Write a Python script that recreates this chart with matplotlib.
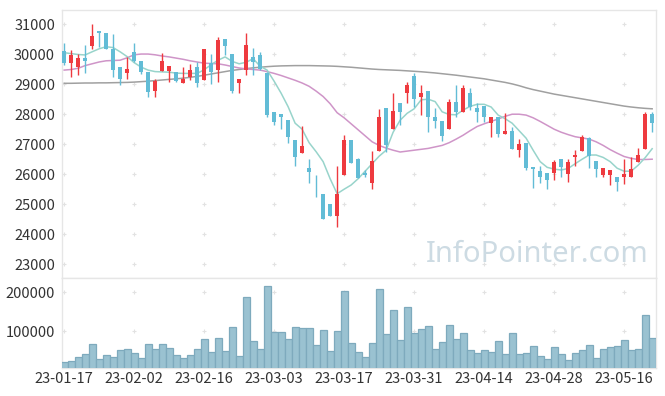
import matplotlib
matplotlib.use("Agg")
import matplotlib.pyplot as plt
import numpy as np
import pandas as pd

# ---------------- data ----------------
holidays = ["2023-01-23", "2023-01-24", "2023-03-01", "2023-05-01", "2023-05-05"]
dates = [d for d in pd.bdate_range("2023-01-17", "2023-05-22") if d.strftime("%Y-%m-%d") not in holidays]

opens = [30107, 29697, 29583, 29883, 30283, 30773, 30697, 30173, 29583, 29383,
         30073, 29773, 29407, 28773, 29440, 29440, 29417, 29050, 29250, 29563,
         29150, 29717, 29473, 30507, 29997, 29050, 29473, 29897, 29973, 29383,
         28083, 28007, 27800, 27140, 26717, 26217, 25720, 25330, 25007, 24617,
         25973, 27140, 26507, 26030, 25717, 26783, 28197, 27497, 28383, 28697,
         29273, 28583, 28773, 27897, 27773, 27497, 28397, 28083, 28697, 28197,
         28273, 27697, 27897, 27330, 27440, 26807, 27030, 26230, 26107, 26030,
         26030, 26507, 25997, 26583, 26783, 27197, 26440, 25973, 25973, 25917,
         25917, 25917, 26397, 26830, 28007]
highs = [30380, 30140, 29997, 30307, 31007, 30773, 30697, 30663, 29583, 29917,
         30363, 29773, 29407, 29163, 30030, 29607, 29417, 29563, 29663, 29750,
         30163, 30000, 30563, 30507, 29997, 29173, 30697, 30197, 30063, 29417,
         28083, 28007, 27800, 27140, 27607, 26497, 25973, 25330, 25007, 26283,
         27307, 27140, 26550, 26150, 26773, 28163, 28197, 28697, 28383, 29083,
         29383, 28973, 28773, 28197, 27773, 28497, 28973, 28973, 28883, 28363,
         28273, 27897, 27897, 28050, 27583, 27173, 27030, 26230, 26273, 26030,
         26473, 26507, 26497, 26807, 27307, 27230, 26440, 26217, 26140, 25917,
         26507, 26583, 26883, 28083, 28083]
lows = [29640, 29250, 29307, 29363, 30163, 30250, 30173, 29250, 28973, 29173,
        29730, 29350, 28563, 28583, 29440, 29083, 29080, 29050, 29140, 28917,
        29150, 29010, 29083, 29973, 28697, 28697, 29307, 29307, 29473, 27917,
        27640, 27500, 27050, 26273, 26717, 25697, 25250, 24507, 24617, 24250,
        25973, 26383, 25863, 25900, 25497, 26783, 26750, 27497, 27640, 28363,
        28250, 27973, 27417, 27530, 27107, 27497, 27897, 28083, 28140, 27750,
        27750, 27230, 27230, 27330, 26830, 26583, 26140, 25530, 25697, 25497,
        25807, 25917, 25743, 26273, 26783, 26197, 25917, 25917, 25640, 25440,
        25673, 25917, 26397, 26830, 27417]
closes = [29697, 29973, 29863, 29783, 30607, 30697, 30173, 29473, 29173, 29497,
          29783, 29397, 28750, 29117, 29773, 29607, 29117, 29173, 29473, 29050,
          30163, 29420, 30473, 30283, 28783, 29173, 30307, 29750, 29497, 27973,
          27750, 27897, 27230, 26583, 26940, 26083, 25697, 24507, 24617, 25330,
          27140, 26383, 25863, 25980, 26440, 27897, 26973, 28107, 28083, 28973,
          28497, 28717, 27897, 27783, 27283, 28397, 28083, 28863, 28250, 28063,
          27897, 27897, 27340, 27440, 26830, 26997, 26197, 26173, 25917, 25807,
          26397, 26230, 26397, 26640, 27230, 26617, 26173, 26217, 26140, 25730,
          26007, 26163, 26640, 28007, 27697]
volumes = [20500, 23000, 33300, 41000, 66700, 28200, 38500, 33300, 51300, 53800,
           43600, 30800, 66700, 53800, 66700, 56400, 38500, 30800, 38500, 53800,
           79500, 46200, 82000, 48700, 110000, 35900, 187000, 74400, 53800, 215000,
           97400, 97400, 79500, 110000, 107700, 107700, 64000, 102600, 49000, 100000,
           204000, 69200, 46200, 33300, 69200, 207700, 92300, 153800, 76900, 161500,
           94900, 105100, 112800, 53800, 71800, 115400, 79500, 94900, 51300, 43600,
           51300, 46200, 74400, 41000, 94900, 41000, 43600, 61500, 35900, 28200,
           59000, 41000, 25600, 43600, 51300, 64100, 30800, 53800, 59000, 61500,
           76900, 51300, 53800, 141000, 82000]
ma5 = [30050, 30020, 29990, 29975, 30080, 30180, 30250, 30220, 30080, 29920,
       29720, 29570, 29470, 29420, 29410, 29400, 29370, 29360, 29360, 29360,
       29480, 29650, 29800, 29910, 29760, 29680, 29730, 29850, 29600, 29470,
       29100, 28700, 28250, 27700, 27500, 27050, 26750, 26420, 25850, 25350,
       25500, 25640, 25850, 26100, 26350, 26600, 26800, 27400, 27800, 28030,
       28180, 28480, 28500, 28420, 28080, 27990, 27980, 28140, 28260, 28330,
       28330, 28240, 27970, 27850, 27700, 27450, 27200, 26800, 26420, 26230,
       26170, 26140, 26190, 26350, 26500, 26640, 26640, 26560, 26420, 26200,
       26100, 26100, 26300, 26550, 26850]
ma20 = [29470, 29490, 29530, 29620, 29680, 29740, 29780, 29790, 29800, 29880,
        29980, 30005, 30005, 29980, 29940, 29910, 29870, 29830, 29780, 29740,
        29700, 29690, 29680, 29640, 29590, 29540, 29510, 29490, 29470, 29420,
        29360, 29290, 29210, 29130, 29040, 28930, 28770, 28590, 28350, 28050,
        27880, 27680, 27480, 27280, 27080, 26960, 26870, 26800, 26740, 26770,
        26800, 26830, 26860, 26910, 26960, 27050, 27170, 27300, 27450, 27590,
        27680, 27760, 27840, 27930, 28000, 28000, 27970, 27880, 27760, 27630,
        27500, 27400, 27320, 27250, 27210, 27170, 27080, 26960, 26820, 26700,
        26590, 26530, 26490, 26490, 26500]
ma_long = [29030, 29030, 29035, 29040, 29040, 29045, 29045, 29050, 29055, 29060,
           29070, 29085, 29100, 29120, 29140, 29160, 29180, 29200, 29230, 29260,
           29300, 29340, 29380, 29420, 29460, 29490, 29520, 29545, 29565, 29585,
           29600, 29610, 29615, 29620, 29620, 29620, 29615, 29610, 29605, 29595,
           29580, 29565, 29545, 29525, 29505, 29490, 29480, 29470, 29460, 29445,
           29430, 29415, 29395, 29375, 29350, 29325, 29300, 29270, 29240, 29210,
           29180, 29140, 29100, 29060, 29010, 28950, 28880, 28820, 28770, 28720,
           28670, 28630, 28590, 28550, 28510, 28470, 28430, 28390, 28350, 28310,
           28270, 28240, 28215, 28195, 28180]
price_ticks = [23000, 24000, 25000, 26000, 27000, 28000, 29000, 30000, 31000]
volume_ticks = [0, 100000, 200000]
watermark = "InfoPointer.com"

# ---------------- style ----------------
plt.rcParams['font.family'] = ['Noto Sans CJK KR', 'DejaVu Sans']
UP = '#ee3a3f'
DOWN = '#62bcd6'
GRID = '#e2e2e2'
SPINE = '#e6e6e6'
TXT = '#333333'

fig = plt.figure(figsize=(6.65, 3.96), dpi=100)
L, R = 62 / 665, 656 / 665
ax = fig.add_axes([L, 1 - 278 / 396, R - L, (278 - 10) / 396])
axv = fig.add_axes([L, 1 - 368 / 396, R - L, (368 - 278) / 396], sharex=ax)

n = len(dates)
x = np.arange(n)
o = np.array(opens); h = np.array(highs); lo = np.array(lows); c = np.array(closes)
up = c >= o
colors = np.where(up, UP, DOWN)

# moving averages
ax.plot(x, ma_long, color='#a0a0a0', lw=1.1, zorder=2)
ax.plot(x, ma20, color='#cf95c8', lw=1.1, zorder=2)
ax.plot(x, ma5, color='#98d4cb', lw=1.1, zorder=2)

# candles
ax.vlines(x, lo, h, colors=colors, lw=1.0, zorder=3)
body_bottom = np.minimum(o, c)
body_h = np.maximum(np.abs(c - o), 18)
ax.bar(x, body_h, bottom=body_bottom, width=0.66, color=colors, lw=0, zorder=4)

# volume
axv.bar(x, volumes, width=1.0, color='#9ac2d1', edgecolor='#7eaabd', lw=0.9, zorder=3)

# limits
ax.set_xlim(-0.3, n - 0.45)
ax.set_ylim(22541, 31473)
axv.set_ylim(5900, 236700)

# ticks
tick_idx = list(range(0, n, 10))
tick_labels = [dates[i].strftime('%y-%m-%d') for i in tick_idx]
ax.set_yticks(price_ticks)
ax.set_yticklabels([str(t) for t in price_ticks])
axv.set_yticks(volume_ticks[1:])
axv.set_yticklabels([str(t) for t in volume_ticks[1:]])
axv.set_xticks(tick_idx)
axv.set_xticklabels(tick_labels)
plt.setp(ax.get_xticklabels(), visible=False)

for a in (ax, axv):
    a.tick_params(axis='both', length=0, labelsize=10.5, colors=TXT, pad=5)
    for s in a.spines.values():
        s.set_color(SPINE)
        s.set_linewidth(1.0)
axv.tick_params(axis='x', pad=3)

# "+" grid markers
gx, gy = np.meshgrid(tick_idx, price_ticks)
ax.scatter(gx.ravel(), gy.ravel(), marker='+', s=12, color=GRID, lw=0.8, zorder=1)
gx2, gy2 = np.meshgrid(tick_idx, volume_ticks)
axv.scatter(gx2.ravel(), gy2.ravel(), marker='+', s=12, color=GRID, lw=0.8, zorder=1, clip_on=True)

# watermark
ax.text(0.988, 0.035, watermark, transform=ax.transAxes, ha='right', va='bottom',
        fontsize=21, color='#cddbe3', family=['Noto Sans', 'DejaVu Sans'], zorder=0)

fig.savefig('out.png', dpi=100)
